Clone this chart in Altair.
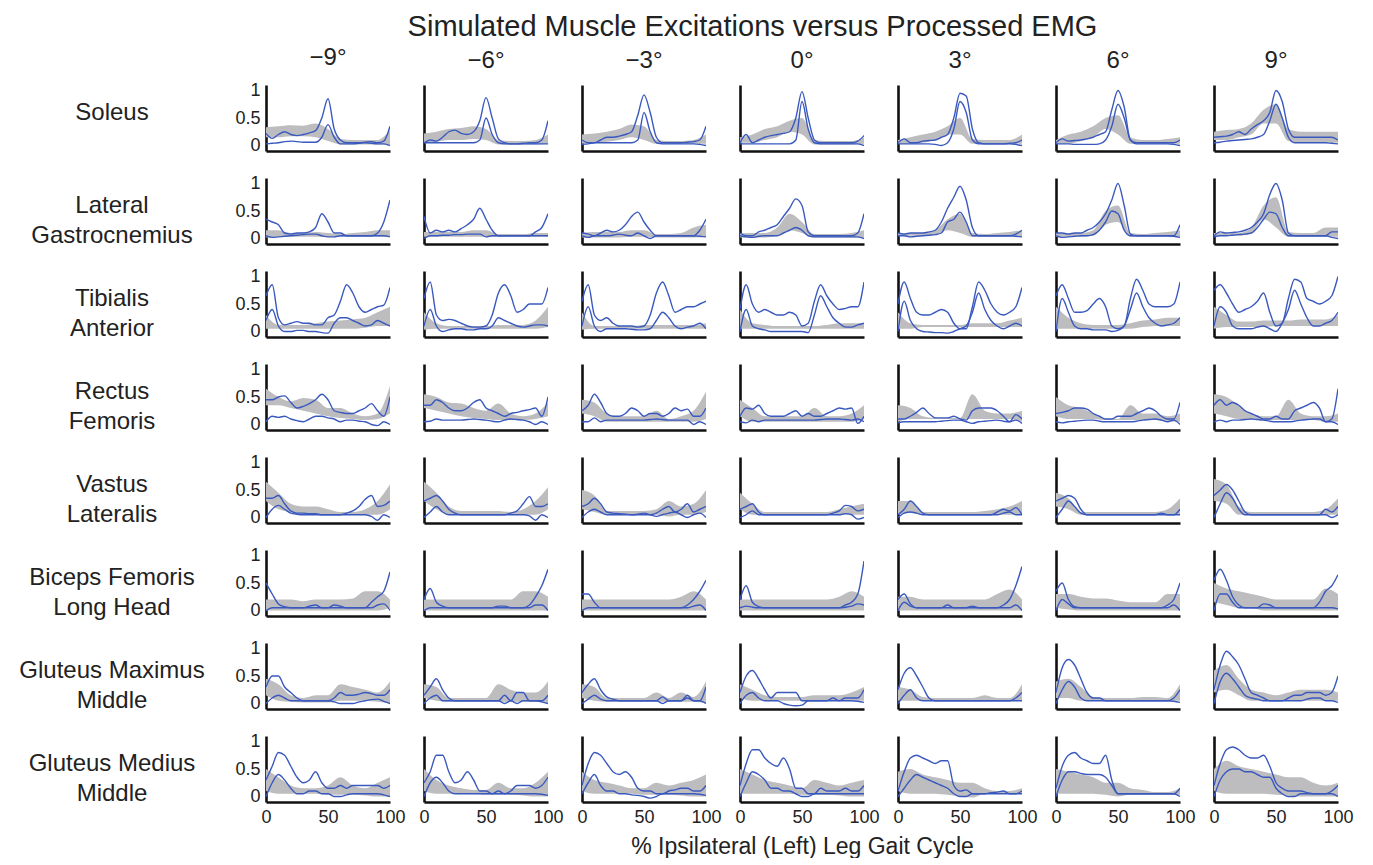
import altair as alt
import pandas as pd

MUSCLES = ["Soleus", "Lateral|Gastrocnemius", "Tibialis|Anterior", "Rectus|Femoris",
           "Vastus|Lateralis", "Biceps Femoris|Long Head", "Gluteus Maximus|Middle",
           "Gluteus Medius|Middle"]
ANGLES = ["−9°", "−6°", "−3°", "0°", "3°", "6°", "9°"]
X_LINE = list(range(0, 101, 5))
X_BAND = list(range(0, 101, 10))
TITLE = "Simulated Muscle Excitations versus Processed EMG"
XTITLE = "% Ipsilateral (Left) Leg Gait Cycle"

# ---------------- Soleus ----------------
SOL_A = [
    [0.22,0.13,0.2,0.25,0.2,0.18,0.2,0.23,0.27,0.5,0.85,0.3,0.1,0.05,0.05,0.05,0.06,0.07,0.05,0.08,0.35],
    [0.05,0.1,0.08,0.15,0.25,0.28,0.22,0.2,0.25,0.45,0.87,0.5,0.12,0.05,0.03,0.03,0.04,0.05,0.05,0.1,0.45],
    [0.1,0.05,0.05,0.1,0.15,0.15,0.17,0.2,0.25,0.55,0.92,0.6,0.15,0.05,0.05,0.05,0.05,0.06,0.07,0.1,0.35],
    [0.05,0.2,0.05,0.1,0.15,0.18,0.2,0.22,0.25,0.5,0.98,0.5,0.1,0.05,0.05,0.05,0.05,0.05,0.05,0.08,0.18],
    [0.05,0.12,0.05,0.05,0.08,0.09,0.1,0.15,0.2,0.5,0.95,0.9,0.3,0.05,0.03,0.03,0.03,0.03,0.04,0.05,0.1],
    [0.05,0.12,0.08,0.09,0.1,0.12,0.15,0.2,0.25,0.65,1.0,0.7,0.1,0.05,0.05,0.05,0.05,0.05,0.05,0.05,0.1],
    [0.15,0.16,0.17,0.2,0.25,0.2,0.3,0.38,0.45,0.6,1.0,0.8,0.3,0.15,0.15,0.15,0.15,0.15,0.15,0.15,0.1],
]
SOL_B = [
    [0.03,0.04,0.05,0.07,0.08,0.07,0.06,0.06,0.06,0.15,0.38,0.15,0.03,0.03,0.03,0.04,0.05,0.04,0.03,0.03,0.0],
    [0.05,0.05,0.05,0.05,0.05,0.05,0.05,0.05,0.05,0.1,0.5,0.2,0.05,0.03,0.03,0.03,0.03,0.03,0.03,0.03,0.03],
    [0.02,0.03,0.05,0.05,0.05,0.05,0.05,0.05,0.05,0.1,0.6,0.25,0.05,0.03,0.03,0.03,0.03,0.03,0.03,0.02,0.0],
    [0.03,0.03,0.03,0.03,0.03,0.03,0.03,0.03,0.03,0.1,0.8,0.3,0.05,0.03,0.03,0.03,0.03,0.03,0.03,0.03,0.0],
    [0.03,0.03,0.03,0.03,0.03,0.03,0.02,0.0,0.05,0.3,0.8,0.6,0.1,0.03,0.03,0.03,0.03,0.03,0.03,0.02,0.0],
    [0.03,0.03,0.03,0.02,0.02,0.02,0.02,0.03,0.1,0.35,0.75,0.5,0.1,0.03,0.03,0.03,0.03,0.03,0.03,0.02,0.0],
    [0.05,0.06,0.08,0.09,0.1,0.11,0.12,0.15,0.2,0.45,0.75,0.5,0.15,0.05,0.05,0.05,0.05,0.05,0.05,0.04,0.03],
]
SOL_LO = [
    [0.15,0.15,0.17,0.17,0.15,0.08,0.02,0.02,0.02,0.02,0.02],
    [0.05,0.07,0.1,0.1,0.12,0.1,0.02,0.02,0.02,0.02,0.03],
    [0.03,0.05,0.07,0.1,0.15,0.1,0.03,0.03,0.03,0.03,0.03],
    [0.05,0.05,0.1,0.15,0.25,0.2,0.02,0.02,0.02,0.02,0.03],
    [0.03,0.03,0.05,0.1,0.2,0.2,0.03,0.03,0.03,0.03,0.03],
    [0.03,0.03,0.08,0.15,0.3,0.2,0.03,0.03,0.03,0.03,0.03],
    [0.1,0.1,0.15,0.2,0.4,0.4,0.08,0.05,0.05,0.05,0.05],
]
SOL_HI = [
    [0.33,0.35,0.37,0.36,0.4,0.3,0.12,0.1,0.1,0.1,0.28],
    [0.22,0.25,0.3,0.32,0.35,0.3,0.1,0.08,0.08,0.1,0.2],
    [0.2,0.22,0.25,0.3,0.38,0.35,0.1,0.08,0.08,0.1,0.2],
    [0.15,0.2,0.3,0.35,0.45,0.5,0.1,0.08,0.08,0.08,0.15],
    [0.1,0.15,0.2,0.25,0.35,0.5,0.12,0.1,0.1,0.1,0.2],
    [0.1,0.2,0.25,0.35,0.5,0.55,0.15,0.1,0.1,0.12,0.15],
    [0.25,0.28,0.3,0.4,0.65,0.75,0.3,0.25,0.25,0.25,0.25],
]

# ---------------- Lateral Gastrocnemius ----------------
LG_A = [
    [0.35,0.3,0.25,0.1,0.08,0.1,0.1,0.12,0.2,0.45,0.3,0.1,0.1,0.05,0.05,0.05,0.05,0.05,0.1,0.3,0.7],
    [0.4,0.1,0.15,0.12,0.15,0.12,0.18,0.25,0.35,0.55,0.35,0.15,0.05,0.05,0.05,0.05,0.05,0.05,0.12,0.2,0.45],
    [0.1,0.08,0.05,0.1,0.15,0.12,0.15,0.25,0.4,0.48,0.3,0.15,0.05,0.05,0.05,0.05,0.05,0.05,0.05,0.15,0.35],
    [0.1,0.05,0.05,0.12,0.15,0.2,0.25,0.4,0.55,0.72,0.6,0.12,0.05,0.05,0.05,0.05,0.05,0.05,0.05,0.1,0.45],
    [0.1,0.08,0.1,0.1,0.1,0.12,0.15,0.3,0.55,0.75,0.95,0.7,0.2,0.05,0.05,0.05,0.05,0.05,0.05,0.08,0.15],
    [0.1,0.1,0.08,0.1,0.1,0.15,0.2,0.3,0.45,0.7,1.0,0.6,0.08,0.05,0.05,0.05,0.05,0.05,0.05,0.05,0.25],
    [0.05,0.12,0.1,0.11,0.12,0.15,0.2,0.3,0.45,0.8,1.0,0.7,0.1,0.05,0.05,0.05,0.05,0.05,0.05,0.12,0.12],
]
LG_B = [
    [0.05,0.02,0.03,0.04,0.05,0.06,0.07,0.08,0.08,0.05,0.03,0.03,0.05,0.05,0.05,0.05,0.05,0.05,0.05,0.05,0.03],
    [0.0,0.05,0.05,0.06,0.06,0.07,0.07,0.08,0.08,0.08,0.03,0.05,0.05,0.05,0.05,0.05,0.05,0.05,0.05,0.05,0.05],
    [0.05,0.02,0.05,0.05,0.05,0.06,0.08,0.06,0.05,0.1,0.05,0.0,0.05,0.05,0.05,0.05,0.05,0.05,0.05,0.04,0.03],
    [0.05,0.03,0.02,0.04,0.05,0.05,0.05,0.1,0.15,0.2,0.15,0.05,0.03,0.03,0.03,0.03,0.03,0.03,0.03,0.03,0.0],
    [0.05,0.05,0.03,0.04,0.05,0.06,0.07,0.1,0.3,0.35,0.48,0.3,0.05,0.05,0.05,0.05,0.05,0.05,0.05,0.04,0.03],
    [0.05,0.02,0.03,0.04,0.05,0.05,0.07,0.15,0.3,0.5,0.45,0.15,0.05,0.05,0.05,0.05,0.05,0.05,0.05,0.04,0.02],
    [0.03,0.05,0.05,0.06,0.07,0.08,0.1,0.2,0.35,0.48,0.45,0.2,0.05,0.05,0.05,0.05,0.05,0.05,0.05,0.02,0.0],
]
LG_LO = [
    [0.02,0.03,0.03,0.03,0.03,0.03,0.03,0.03,0.03,0.03,0.03],
    [0.03,0.03,0.03,0.03,0.03,0.03,0.03,0.03,0.03,0.03,0.03],
    [0.02,0.02,0.02,0.02,0.03,0.03,0.02,0.02,0.02,0.02,0.03],
    [0.02,0.02,0.02,0.05,0.15,0.1,0.02,0.02,0.02,0.02,0.02],
    [0.05,0.05,0.05,0.07,0.15,0.1,0.03,0.03,0.03,0.03,0.03],
    [0.03,0.03,0.03,0.05,0.25,0.3,0.03,0.03,0.03,0.03,0.03],
    [0.05,0.05,0.05,0.1,0.35,0.2,0.03,0.03,0.03,0.03,0.03],
]
LG_HI = [
    [0.15,0.15,0.1,0.1,0.12,0.1,0.08,0.1,0.12,0.15,0.15],
    [0.12,0.12,0.12,0.12,0.15,0.15,0.08,0.08,0.08,0.1,0.1],
    [0.1,0.12,0.12,0.12,0.15,0.15,0.08,0.08,0.1,0.2,0.25],
    [0.1,0.1,0.1,0.2,0.45,0.3,0.08,0.08,0.08,0.1,0.15],
    [0.1,0.1,0.1,0.15,0.35,0.45,0.1,0.08,0.1,0.12,0.15],
    [0.1,0.1,0.1,0.15,0.5,0.6,0.1,0.08,0.1,0.12,0.15],
    [0.1,0.1,0.1,0.2,0.6,0.75,0.12,0.1,0.1,0.2,0.2],
]

# ---------------- Tibialis Anterior ----------------
TA_A = [
    [0.65,0.85,0.25,0.12,0.15,0.18,0.15,0.15,0.12,0.12,0.25,0.3,0.55,0.85,0.7,0.45,0.35,0.4,0.45,0.48,0.8],
    [0.6,0.9,0.3,0.2,0.22,0.2,0.15,0.1,0.08,0.08,0.1,0.3,0.7,0.85,0.65,0.35,0.4,0.5,0.5,0.5,0.8],
    [0.55,0.85,0.3,0.2,0.25,0.15,0.1,0.1,0.1,0.08,0.1,0.3,0.7,0.9,0.65,0.35,0.4,0.45,0.45,0.5,0.55],
    [0.4,0.85,0.5,0.35,0.4,0.35,0.3,0.3,0.35,0.3,0.1,0.15,0.55,0.85,0.65,0.5,0.4,0.42,0.45,0.45,0.9],
    [0.5,0.9,0.6,0.35,0.3,0.3,0.35,0.4,0.35,0.15,0.05,0.05,0.45,0.9,0.75,0.5,0.35,0.3,0.35,0.45,0.8],
    [0.65,0.85,0.6,0.35,0.35,0.38,0.5,0.6,0.45,0.1,0.05,0.1,0.6,0.95,0.75,0.5,0.45,0.45,0.45,0.5,0.9],
    [0.75,0.85,0.7,0.5,0.35,0.4,0.45,0.55,0.7,0.35,0.1,0.15,0.6,0.95,0.9,0.6,0.55,0.5,0.55,0.65,1.0],
]
TA_B = [
    [0.2,0.4,0.1,0.0,0.0,0.02,0.02,0.0,0.0,-0.02,-0.03,0.15,0.25,0.25,0.2,0.15,0.1,0.12,0.2,0.15,0.1],
    [0.1,0.4,0.1,0.0,0.03,0.05,0.05,0.03,0.03,0.05,0.05,0.1,0.25,0.2,0.15,0.1,0.08,0.1,0.12,0.12,0.1],
    [0.1,0.45,0.1,0.0,0.05,0.05,0.05,0.05,0.04,0.03,0.03,0.05,0.2,0.35,0.25,0.1,0.05,0.08,0.1,0.15,0.05],
    [0.0,0.4,0.1,0.05,0.03,0.0,0.0,0.0,0.0,0.0,0.0,-0.02,0.3,0.65,0.45,0.25,0.15,0.08,0.08,0.12,0.15],
    [0.0,0.55,0.2,0.05,0.0,-0.01,-0.02,-0.02,-0.03,0.0,0.05,0.1,0.35,0.7,0.4,0.2,0.1,0.05,0.1,0.15,0.1],
    [0.0,0.6,0.35,0.1,0.05,0.05,0.03,0.03,0.03,0.0,0.02,0.1,0.4,0.7,0.45,0.25,0.15,0.1,0.12,0.15,0.25],
    [0.1,0.45,0.35,0.1,0.05,0.05,0.05,0.08,0.1,0.05,0.0,0.15,0.4,0.75,0.5,0.25,0.1,0.1,0.15,0.2,0.35],
]
TA_LO = [
    [0.05,0.05,0.05,0.05,0.05,0.05,0.05,0.05,0.07,0.1,0.1],
    [0.03,0.05,0.05,0.05,0.05,0.05,0.05,0.05,0.05,0.05,0.08],
    [0.03,0.05,0.05,0.05,0.05,0.05,0.05,0.05,0.05,0.05,0.05],
    [0.05,0.05,0.05,0.05,0.05,0.05,0.05,0.05,0.05,0.05,0.05],
    [0.05,0.05,0.08,0.08,0.08,0.08,0.08,0.08,0.08,0.08,0.08],
    [0.05,0.05,0.05,0.05,0.05,0.05,0.05,0.08,0.1,0.1,0.1],
    [0.05,0.08,0.08,0.08,0.08,0.1,0.1,0.1,0.1,0.1,0.1],
]
TA_HI = [
    [0.3,0.12,0.12,0.12,0.15,0.18,0.2,0.22,0.25,0.35,0.45],
    [0.35,0.15,0.1,0.1,0.1,0.1,0.12,0.12,0.12,0.2,0.45],
    [0.35,0.1,0.1,0.1,0.1,0.12,0.12,0.12,0.12,0.12,0.15],
    [0.4,0.15,0.12,0.1,0.1,0.1,0.1,0.12,0.15,0.15,0.15],
    [0.35,0.15,0.12,0.12,0.12,0.12,0.15,0.15,0.15,0.2,0.25],
    [0.45,0.25,0.15,0.12,0.12,0.12,0.15,0.2,0.22,0.25,0.25],
    [0.45,0.3,0.18,0.18,0.2,0.2,0.2,0.22,0.22,0.22,0.3],
]

# ---------------- Rectus Femoris ----------------
RF_A = [
    [0.45,0.45,0.5,0.52,0.4,0.3,0.33,0.38,0.45,0.55,0.45,0.25,0.22,0.2,0.2,0.25,0.3,0.38,0.25,0.15,0.5],
    [0.35,0.35,0.45,0.4,0.3,0.25,0.25,0.3,0.4,0.45,0.3,0.25,0.2,0.15,0.2,0.22,0.25,0.27,0.3,0.15,0.5],
    [0.25,0.35,0.55,0.4,0.2,0.15,0.15,0.2,0.3,0.25,0.15,0.2,0.2,0.15,0.2,0.3,0.25,0.28,0.15,0.15,0.3],
    [0.15,0.3,0.28,0.35,0.2,0.15,0.15,0.15,0.2,0.25,0.15,0.2,0.15,0.15,0.2,0.25,0.3,0.28,0.3,0.02,0.15],
    [0.1,0.1,0.15,0.22,0.3,0.2,0.12,0.12,0.12,0.15,0.1,0.08,0.25,0.3,0.3,0.3,0.25,0.15,0.05,0.18,0.1],
    [0.2,0.22,0.25,0.3,0.3,0.28,0.2,0.15,0.1,0.1,0.15,0.15,0.15,0.2,0.25,0.3,0.25,0.15,0.1,0.1,0.4],
    [0.35,0.45,0.35,0.4,0.35,0.25,0.2,0.15,0.1,0.1,0.15,0.1,0.1,0.25,0.3,0.35,0.4,0.3,0.05,0.1,0.65],
]
RF_B = [
    [0.05,0.15,0.13,0.15,0.1,0.07,0.05,0.1,0.15,0.15,0.12,0.1,0.05,0.08,0.08,0.06,0.05,0.0,-0.02,0.05,0.0],
    [0.05,0.06,0.1,0.08,0.08,0.08,0.08,0.09,0.1,0.09,0.08,0.06,0.05,0.08,0.1,0.09,0.08,0.05,0.0,0.05,0.0],
    [0.05,0.05,0.12,0.05,0.08,0.08,0.08,0.08,0.08,0.08,0.08,0.09,0.1,0.09,0.08,0.08,0.08,0.08,0.0,0.05,0.0],
    [0.05,0.03,0.08,0.05,0.08,0.08,0.08,0.08,0.08,0.08,0.08,0.08,0.08,0.09,0.1,0.1,0.1,0.09,0.08,0.1,0.05],
    [0.03,0.05,0.05,0.05,0.05,0.05,0.05,0.06,0.07,0.08,0.08,0.05,0.02,0.05,0.06,0.07,0.08,0.06,0.05,0.08,0.02],
    [0.05,0.03,0.05,0.06,0.07,0.08,0.08,0.06,0.05,0.05,0.05,0.05,0.05,0.06,0.08,0.09,0.1,0.08,0.05,0.08,0.0],
    [0.05,0.08,0.05,0.08,0.08,0.09,0.1,0.09,0.08,0.06,0.05,0.05,0.05,0.06,0.08,0.09,0.1,0.1,0.05,0.05,0.0],
]
RF_LO = [
    [0.35,0.35,0.3,0.25,0.2,0.15,0.12,0.1,0.08,0.1,0.2],
    [0.3,0.25,0.2,0.15,0.12,0.1,0.08,0.08,0.08,0.1,0.15],
    [0.2,0.15,0.05,0.05,0.05,0.05,0.05,0.05,0.05,0.05,0.1],
    [0.15,0.05,0.05,0.05,0.05,0.05,0.05,0.05,0.05,0.05,0.1],
    [0.05,0.1,0.1,0.1,0.1,0.1,0.1,0.1,0.1,0.1,0.05],
    [0.15,0.1,0.1,0.1,0.08,0.08,0.08,0.08,0.08,0.05,0.05],
    [0.2,0.15,0.1,0.1,0.08,0.08,0.08,0.08,0.08,0.05,0.05],
]
RF_HI = [
    [0.65,0.5,0.42,0.48,0.45,0.3,0.3,0.2,0.15,0.2,0.7],
    [0.55,0.5,0.4,0.38,0.3,0.25,0.38,0.2,0.15,0.2,0.4],
    [0.45,0.4,0.2,0.15,0.15,0.15,0.25,0.1,0.15,0.25,0.6],
    [0.45,0.3,0.15,0.15,0.15,0.15,0.3,0.15,0.15,0.2,0.35],
    [0.35,0.3,0.15,0.12,0.12,0.12,0.55,0.25,0.2,0.2,0.25],
    [0.5,0.35,0.3,0.2,0.1,0.1,0.35,0.2,0.2,0.15,0.2],
    [0.55,0.5,0.35,0.2,0.15,0.15,0.45,0.2,0.15,0.15,0.2],
]

# ---------------- Vastus Lateralis ----------------
VL_A = [
    [0.35,0.35,0.4,0.25,0.12,0.08,0.08,0.07,0.07,0.05,0.05,0.05,0.05,0.08,0.12,0.2,0.33,0.4,0.2,0.22,0.3],
    [0.3,0.35,0.4,0.3,0.15,0.08,0.05,0.05,0.05,0.05,0.05,0.05,0.05,0.05,0.08,0.12,0.25,0.38,0.2,0.2,0.25],
    [0.2,0.25,0.35,0.25,0.1,0.08,0.07,0.06,0.05,0.05,0.05,0.05,0.08,0.15,0.2,0.1,0.15,0.25,0.1,0.15,0.2],
    [0.15,0.2,0.25,0.1,0.05,0.05,0.05,0.05,0.05,0.05,0.05,0.05,0.05,0.05,0.05,0.08,0.12,0.22,0.2,0.12,0.15],
    [0.05,0.15,0.3,0.2,0.08,0.05,0.05,0.05,0.05,0.05,0.05,0.05,0.05,0.05,0.05,0.05,0.1,0.15,0.12,0.18,0.05],
    [0.3,0.35,0.4,0.35,0.15,0.05,0.05,0.05,0.05,0.05,0.05,0.05,0.05,0.05,0.05,0.05,0.05,0.08,0.05,0.05,0.15],
    [0.4,0.5,0.6,0.5,0.3,0.1,0.05,0.05,0.05,0.05,0.05,0.05,0.05,0.05,0.05,0.05,0.05,0.05,0.15,0.1,0.2],
]
VL_B = [
    [0.0,0.15,0.22,0.15,0.08,0.06,0.05,0.05,0.05,0.05,0.05,0.05,0.05,0.05,0.05,0.05,0.05,0.02,-0.05,0.05,0.0],
    [0.0,0.1,0.2,0.1,0.05,0.05,0.05,0.05,0.05,0.05,0.05,0.05,0.05,0.05,0.05,0.05,0.05,0.03,-0.05,0.05,0.0],
    [0.0,0.1,0.15,0.1,0.05,0.05,0.05,0.05,0.05,0.06,0.08,0.05,0.02,0.05,0.08,0.1,0.05,0.0,0.05,0.08,0.0],
    [0.0,0.05,0.12,0.05,0.05,0.05,0.05,0.05,0.05,0.05,0.05,0.05,0.05,0.05,0.05,0.05,0.05,0.07,0.05,-0.03,0.0],
    [0.0,0.08,0.1,0.08,0.05,0.05,0.05,0.05,0.05,0.05,0.05,0.05,0.05,0.05,0.05,0.05,0.05,0.08,0.1,0.05,0.05],
    [0.0,0.15,0.3,0.2,0.08,0.05,0.05,0.05,0.05,0.05,0.05,0.05,0.05,0.05,0.05,0.05,0.05,0.05,0.05,0.05,0.05],
    [0.0,0.25,0.45,0.35,0.15,0.05,0.05,0.05,0.05,0.05,0.05,0.05,0.05,0.05,0.05,0.05,0.05,0.05,0.05,0.0,0.05],
]
VL_LO = [
    [0.3,0.15,0.1,0.05,0.05,0.05,0.05,0.05,0.05,0.05,0.15],
    [0.3,0.15,0.05,0.05,0.05,0.05,0.05,0.05,0.05,0.05,0.15],
    [0.15,0.1,0.05,0.05,0.05,0.05,0.05,0.02,0.05,0.05,0.1],
    [0.15,0.05,0.05,0.05,0.05,0.05,0.05,0.05,0.05,0.05,0.05],
    [0.05,0.08,0.05,0.05,0.05,0.05,0.05,0.05,0.05,0.05,0.05],
    [0.2,0.15,0.05,0.05,0.05,0.05,0.05,0.05,0.05,0.05,0.05],
    [0.3,0.25,0.05,0.05,0.05,0.05,0.05,0.05,0.05,0.05,0.05],
]
VL_HI = [
    [0.65,0.45,0.25,0.2,0.2,0.15,0.1,0.1,0.15,0.3,0.6],
    [0.65,0.45,0.2,0.12,0.12,0.12,0.12,0.1,0.15,0.3,0.55],
    [0.5,0.4,0.12,0.12,0.12,0.12,0.15,0.3,0.2,0.25,0.5],
    [0.45,0.25,0.1,0.1,0.1,0.1,0.1,0.1,0.15,0.2,0.25],
    [0.3,0.3,0.1,0.1,0.1,0.1,0.1,0.12,0.15,0.2,0.3],
    [0.45,0.35,0.1,0.1,0.1,0.1,0.1,0.1,0.1,0.15,0.35],
    [0.7,0.6,0.2,0.1,0.1,0.1,0.1,0.1,0.1,0.15,0.35],
]

# ---------------- Biceps Femoris Long Head ----------------
BF_A = [
    [0.5,0.3,0.12,0.07,0.05,0.05,0.05,0.05,0.05,0.05,0.05,0.1,0.08,0.05,0.05,0.05,0.05,0.15,0.25,0.35,0.7],
    [0.2,0.4,0.15,0.08,0.05,0.05,0.05,0.05,0.05,0.05,0.05,0.05,0.08,0.08,0.05,0.05,0.05,0.1,0.25,0.45,0.75],
    [0.3,0.3,0.15,0.05,0.05,0.05,0.05,0.05,0.05,0.05,0.05,0.05,0.05,0.05,0.05,0.05,0.05,0.1,0.2,0.35,0.55],
    [0.2,0.45,0.15,0.07,0.05,0.05,0.05,0.05,0.05,0.05,0.05,0.05,0.05,0.05,0.05,0.05,0.05,0.1,0.15,0.3,0.9],
    [0.2,0.3,0.12,0.05,0.05,0.05,0.05,0.05,0.05,0.05,0.05,0.05,0.05,0.05,0.05,0.05,0.05,0.1,0.2,0.45,0.8],
    [0.35,0.5,0.2,0.07,0.05,0.05,0.05,0.05,0.05,0.05,0.05,0.05,0.05,0.05,0.05,0.05,0.05,0.05,0.1,0.2,0.5],
    [0.55,0.75,0.55,0.25,0.1,0.05,0.05,0.05,0.12,0.1,0.05,0.05,0.05,0.05,0.05,0.05,0.05,0.15,0.35,0.45,0.65],
]
BF_B = [
    [0.0,0.05,0.05,0.05,0.05,0.05,0.05,0.08,0.1,0.05,0.05,0.05,0.05,0.05,0.05,0.05,0.05,0.05,0.1,0.12,0.0],
    [0.0,0.05,0.05,0.05,0.05,0.05,0.05,0.05,0.05,0.05,0.05,0.05,0.05,0.05,0.05,0.05,0.05,0.05,0.1,0.1,0.0],
    [0.0,0.05,0.05,0.05,0.05,0.05,0.05,0.05,0.05,0.05,0.05,0.05,0.05,0.05,0.05,0.05,0.05,0.05,0.08,0.1,0.0],
    [0.05,0.08,0.06,0.05,0.05,0.05,0.05,0.05,0.05,0.05,0.05,0.05,0.05,0.05,0.05,0.05,0.05,0.06,0.08,0.12,0.1],
    [0.0,0.15,0.08,0.05,0.05,0.05,0.05,0.05,0.1,0.05,0.05,0.05,0.08,0.05,0.05,0.05,0.05,0.05,0.05,0.1,0.0],
    [0.0,0.2,0.12,0.05,0.05,0.05,0.05,0.05,0.05,0.05,0.05,0.05,0.05,0.05,0.05,0.05,0.05,0.05,0.05,0.1,0.0],
    [0.0,0.3,0.3,0.15,0.05,0.05,0.05,0.05,0.05,0.05,0.05,0.05,0.05,0.05,0.05,0.05,0.05,0.05,0.05,0.05,0.03],
]
BF_LO = [
    [0.0,0.0,0.0,0.0,0.0,0.0,0.0,0.0,0.0,0.0,0.05],
    [0.0,0.0,0.0,0.0,0.0,0.0,0.0,0.0,0.0,0.0,0.0],
    [0.0,0.0,0.0,0.0,0.0,0.0,0.0,0.0,0.0,0.0,0.0],
    [0.0,0.0,0.0,0.0,0.0,0.0,0.0,0.0,0.0,0.0,0.0],
    [0.0,0.0,0.0,0.0,0.0,0.0,0.0,0.0,0.0,0.0,0.0],
    [0.05,0.02,0.0,0.0,0.0,0.0,0.0,0.0,0.0,0.0,0.0],
    [0.15,0.1,0.05,0.05,0.0,0.0,0.0,0.0,0.0,0.0,0.0],
]
BF_HI = [
    [0.2,0.2,0.2,0.17,0.2,0.2,0.2,0.22,0.35,0.35,0.2],
    [0.2,0.2,0.2,0.2,0.2,0.2,0.2,0.2,0.35,0.35,0.25],
    [0.2,0.2,0.2,0.2,0.2,0.2,0.2,0.2,0.25,0.35,0.2],
    [0.2,0.2,0.2,0.2,0.2,0.2,0.2,0.2,0.25,0.35,0.25],
    [0.25,0.25,0.2,0.2,0.2,0.2,0.2,0.2,0.3,0.38,0.2],
    [0.3,0.3,0.25,0.22,0.22,0.18,0.15,0.15,0.15,0.3,0.3],
    [0.5,0.4,0.35,0.3,0.25,0.2,0.2,0.2,0.2,0.4,0.3],
]

# ---------------- Gluteus Maximus Middle ----------------
GMX_A = [
    [0.3,0.5,0.5,0.3,0.2,0.1,0.05,0.05,0.05,0.05,0.05,0.1,0.2,0.15,0.15,0.17,0.2,0.18,0.15,0.15,0.25],
    [0.15,0.3,0.45,0.25,0.1,0.05,0.05,0.05,0.05,0.05,0.05,0.05,0.05,0.15,0.05,0.2,0.2,0.05,0.05,0.05,0.15],
    [0.2,0.35,0.45,0.25,0.12,0.08,0.05,0.05,0.05,0.05,0.05,0.05,0.05,0.12,0.05,0.05,0.05,0.15,0.05,0.05,0.3],
    [0.2,0.5,0.6,0.45,0.25,0.1,0.2,0.2,0.2,0.2,0.05,0.05,0.05,0.05,0.05,0.1,0.05,0.1,0.1,0.1,0.25],
    [0.25,0.55,0.65,0.5,0.3,0.1,0.05,0.05,0.05,0.05,0.05,0.05,0.05,0.05,0.05,0.05,0.05,0.05,0.05,0.1,0.2],
    [0.2,0.65,0.8,0.7,0.45,0.2,0.1,0.1,0.05,0.05,0.05,0.05,0.05,0.05,0.05,0.05,0.05,0.05,0.05,0.1,0.25],
    [0.25,0.7,0.95,0.85,0.7,0.45,0.2,0.15,0.1,0.05,0.05,0.05,0.1,0.15,0.15,0.2,0.2,0.2,0.15,0.2,0.5],
]
GMX_B = [
    [0.0,0.1,0.15,0.1,0.05,0.05,0.05,0.05,0.05,0.05,0.05,0.03,0.0,0.0,0.0,0.03,0.05,0.07,0.08,0.04,0.0],
    [0.0,0.1,0.15,0.05,0.05,0.05,0.05,0.05,0.05,0.05,0.05,0.05,0.05,0.0,0.05,0.0,0.05,0.05,0.05,0.03,0.0],
    [0.0,0.08,0.15,0.08,0.05,0.05,0.05,0.05,0.05,0.05,0.05,0.05,0.05,0.0,0.05,0.05,0.05,0.1,0.05,0.05,0.0],
    [0.0,0.15,0.2,0.1,0.05,0.05,0.05,0.0,-0.03,-0.04,-0.03,0.05,0.05,0.05,0.05,0.05,0.05,0.05,0.05,0.04,0.02],
    [0.0,0.15,0.25,0.1,0.05,0.05,0.05,0.05,0.05,0.05,0.05,0.05,0.05,0.05,0.05,0.05,0.05,0.05,0.05,0.05,0.05],
    [0.0,0.25,0.4,0.3,0.1,0.05,0.05,0.05,0.05,0.05,0.05,0.05,0.05,0.05,0.05,0.05,0.05,0.05,0.05,0.04,0.02],
    [0.0,0.4,0.55,0.45,0.3,0.15,0.1,0.08,0.05,0.05,0.05,0.05,0.05,0.05,0.05,0.08,0.1,0.1,0.05,0.05,0.02],
]
GMX_LO = [
    [0.15,0.05,0.03,0.02,0.02,0.02,0.05,0.05,0.05,0.03,0.0],
    [0.1,0.05,0.03,0.03,0.03,0.03,0.03,0.03,0.03,0.03,0.0],
    [0.1,0.05,0.03,0.03,0.03,0.03,0.03,0.03,0.03,0.03,0.0],
    [0.1,0.05,0.05,0.05,0.05,0.05,0.05,0.05,0.05,0.05,0.05],
    [0.05,0.05,0.05,0.05,0.05,0.05,0.05,0.05,0.05,0.05,0.05],
    [0.1,0.1,0.05,0.05,0.05,0.05,0.05,0.05,0.05,0.05,0.05],
    [0.2,0.25,0.15,0.05,0.05,0.05,0.05,0.05,0.05,0.05,0.05],
]
GMX_HI = [
    [0.45,0.35,0.15,0.1,0.15,0.15,0.35,0.3,0.25,0.2,0.4],
    [0.35,0.3,0.1,0.1,0.1,0.1,0.35,0.25,0.2,0.2,0.4],
    [0.35,0.3,0.1,0.1,0.1,0.1,0.2,0.1,0.2,0.12,0.4],
    [0.35,0.25,0.15,0.12,0.12,0.12,0.15,0.15,0.15,0.2,0.3],
    [0.3,0.25,0.12,0.1,0.1,0.1,0.1,0.15,0.1,0.1,0.35],
    [0.4,0.45,0.3,0.12,0.1,0.1,0.1,0.12,0.12,0.1,0.35],
    [0.6,0.7,0.45,0.25,0.2,0.15,0.2,0.25,0.25,0.25,0.2],
]

# ---------------- Gluteus Medius Middle ----------------
GMD_A = [
    [0.3,0.55,0.8,0.75,0.55,0.35,0.25,0.3,0.45,0.25,0.15,0.15,0.2,0.15,0.2,0.2,0.2,0.2,0.2,0.15,0.2],
    [0.25,0.45,0.75,0.75,0.45,0.25,0.3,0.45,0.3,0.1,0.1,0.05,0.1,0.05,0.1,0.2,0.2,0.2,0.15,0.2,0.35],
    [0.2,0.6,0.8,0.75,0.6,0.45,0.4,0.45,0.35,0.15,0.1,0.1,0.05,0.05,0.1,0.12,0.15,0.15,0.1,0.1,0.2],
    [0.2,0.6,0.85,0.85,0.7,0.6,0.55,0.7,0.5,0.15,0.15,0.05,0.05,0.15,0.1,0.1,0.1,0.15,0.1,0.1,0.2],
    [0.1,0.45,0.7,0.75,0.7,0.65,0.6,0.65,0.65,0.2,0.1,0.12,0.05,0.05,0.05,0.07,0.08,0.1,0.05,0.05,0.1],
    [0.15,0.55,0.75,0.8,0.7,0.65,0.6,0.6,0.75,0.3,0.05,0.05,0.05,0.05,0.05,0.05,0.05,0.05,0.05,0.05,0.15],
    [0.2,0.6,0.85,0.9,0.85,0.75,0.7,0.7,0.75,0.55,0.25,0.15,0.1,0.1,0.1,0.07,0.05,0.05,0.05,0.1,0.2],
]
GMD_B = [
    [0.0,0.25,0.4,0.3,0.15,0.05,0.05,0.1,0.1,0.05,0.05,0.0,0.0,0.03,0.05,0.05,0.05,0.05,0.05,0.03,0.0],
    [0.0,0.25,0.35,0.25,0.1,0.05,0.05,0.05,0.05,0.05,0.05,0.05,0.05,0.05,0.05,0.05,0.05,0.05,0.05,0.04,0.02],
    [0.05,0.25,0.4,0.2,0.1,0.1,0.05,0.05,0.03,0.02,0.0,-0.03,0.0,0.05,0.05,0.05,0.05,0.05,0.05,0.04,0.02],
    [0.0,0.25,0.45,0.4,0.3,0.15,0.15,0.1,0.1,0.05,0.0,0.0,0.05,0.05,0.05,0.05,0.05,0.05,0.05,0.05,0.05],
    [0.0,0.15,0.3,0.4,0.35,0.3,0.25,0.2,0.15,0.05,0.0,0.0,0.05,0.05,0.05,0.05,0.05,0.05,0.05,0.05,0.05],
    [0.0,0.3,0.45,0.45,0.42,0.4,0.4,0.4,0.35,0.2,0.05,0.05,0.05,0.05,0.05,0.05,0.05,0.05,0.05,0.05,0.0],
    [0.0,0.3,0.45,0.5,0.5,0.45,0.45,0.4,0.35,0.35,0.15,0.05,0.0,0.0,0.05,0.05,0.05,0.05,0.05,0.05,0.0],
]
GMD_LO = [
    [0.1,0.05,0.05,0.05,0.05,0.03,0.03,0.03,0.02,0.0,0.0],
    [0.1,0.05,0.05,0.05,0.05,0.03,0.03,0.03,0.02,0.0,0.0],
    [0.1,0.05,0.05,0.05,0.05,0.03,0.03,0.03,0.02,0.0,0.0],
    [0.05,0.05,0.05,0.05,0.05,0.03,0.03,0.03,0.02,0.0,0.0],
    [0.1,0.05,0.05,0.05,0.03,0.0,-0.02,0.05,0.05,0.05,0.05],
    [0.05,0.05,0.05,0.05,0.03,0.0,0.03,0.03,0.03,0.03,0.03],
    [0.1,0.05,0.05,0.05,0.05,0.03,0.02,0.0,0.0,0.0,0.0],
]
GMD_HI = [
    [0.5,0.35,0.2,0.15,0.15,0.2,0.35,0.2,0.15,0.25,0.35],
    [0.5,0.3,0.2,0.15,0.12,0.12,0.25,0.15,0.15,0.25,0.45],
    [0.45,0.3,0.25,0.2,0.15,0.15,0.25,0.2,0.25,0.3,0.4],
    [0.5,0.4,0.3,0.25,0.2,0.15,0.3,0.25,0.2,0.25,0.3],
    [0.45,0.5,0.4,0.35,0.3,0.25,0.25,0.15,0.1,0.1,0.15],
    [0.5,0.45,0.4,0.35,0.25,0.25,0.15,0.12,0.08,0.08,0.15],
    [0.5,0.65,0.55,0.5,0.45,0.4,0.35,0.35,0.25,0.2,0.25],
]

SERIES = [
    (SOL_A, SOL_B, SOL_LO, SOL_HI),
    (LG_A, LG_B, LG_LO, LG_HI),
    (TA_A, TA_B, TA_LO, TA_HI),
    (RF_A, RF_B, RF_LO, RF_HI),
    (VL_A, VL_B, VL_LO, VL_HI),
    (BF_A, BF_B, BF_LO, BF_HI),
    (GMX_A, GMX_B, GMX_LO, GMX_HI),
    (GMD_A, GMD_B, GMD_LO, GMD_HI),
]

rows = []
for mi, (A, B, LO, HI) in enumerate(SERIES):
    for j in range(len(ANGLES)):
        for x, lo, hi in zip(X_BAND, LO[j], HI[j]):
            rows.append({"m": mi, "a": j, "kind": "band", "series": "band", "x": x, "lo": lo, "hi": hi})
        for name, arr in (("A", A[j]), ("B", B[j])):
            for x, v in zip(X_LINE, arr):
                rows.append({"m": mi, "a": j, "kind": "line", "series": name, "x": x, "v": v})
df = pd.DataFrame(rows)

FONT = "Liberation Sans"
TXT = "#222222"
BAND_COLOR = "#bdbdc0"
LINE_COLOR = "#3a59bf"
PW, PH = 124, 66
xscale = alt.Scale(domain=[0, 100], nice=False, zero=False)
yscale = alt.Scale(domain=[-0.1, 1.1], nice=False, zero=False)


def panel(i, j):
    last_row = i == len(MUSCLES) - 1
    xaxis = alt.Axis(values=[0, 50, 100], labels=last_row, labelFlush=False,
                     title=XTITLE if (last_row and j == 3) else None)
    yaxis = alt.Axis(values=[0, 0.5, 1], format="~g", labels=(j == 0), labelFlush=False,
                     title=None)
    sel = f"datum.m == {i} && datum.a == {j}"
    band = alt.Chart().transform_filter(sel + " && datum.kind == 'band'").mark_area(
        color=BAND_COLOR, opacity=1, interpolate="monotone", clip=True
    ).encode(
        x=alt.X("x:Q", scale=xscale, axis=xaxis),
        y=alt.Y("lo:Q", scale=yscale, axis=yaxis),
        y2="hi:Q",
    )
    lines = alt.Chart().transform_filter(sel + " && datum.kind == 'line'").mark_line(
        color=LINE_COLOR, strokeWidth=1.4, interpolate="monotone", clip=True
    ).encode(
        x=alt.X("x:Q", scale=xscale, axis=xaxis),
        y=alt.Y("v:Q", scale=yscale, axis=yaxis),
        detail="series:N",
    )
    ch = alt.layer(band, lines).properties(width=PW, height=PH)
    if i == 0:
        ch = ch.properties(title=alt.TitleParams(ANGLES[j], fontSize=24, font=FONT,
                                                 fontWeight="normal", color=TXT, offset=12))
    return ch


def label_chart(i):
    return alt.Chart(pd.DataFrame({"label": [MUSCLES[i]]})).mark_text(
        align="center", baseline="middle", fontSize=24, font=FONT, color=TXT,
        lineBreak="|", lineHeight=30
    ).encode(
        text="label:N", x=alt.value(104), y=alt.value(28)
    ).properties(width=224, height=PH)


cells = []
for i in range(len(MUSCLES)):
    cells.append(label_chart(i))
    for j in range(len(ANGLES)):
        cells.append(panel(i, j))

chart = alt.concat(
    *cells, columns=8, spacing={"row": 27, "column": 34}, bounds="flush", data=df
).properties(
    title=alt.TitleParams(TITLE, fontSize=29, font=FONT, fontWeight="normal", color=TXT,
                          anchor="middle", dx=72, offset=4),
    padding={"left": 0, "top": 4, "right": 5, "bottom": 0},
).configure_view(stroke=None).configure_axis(
    domainColor="#111111", domainWidth=2.6, ticks=False, grid=False, labelFontSize=18,
    labelFont=FONT, labelColor=TXT, labelPadding=6, titleFont=FONT, titleFontSize=23,
    titleFontWeight="normal", titleColor=TXT, titlePadding=9
)

chart.save("out.html", embed_options={"renderer": "svg", "actions": False})
